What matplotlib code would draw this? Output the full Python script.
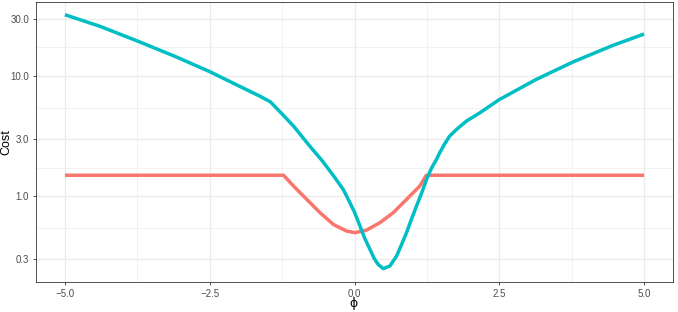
import matplotlib
matplotlib.use("Agg")
import matplotlib.pyplot as plt
from matplotlib.ticker import FixedLocator, NullFormatter
import numpy as np

plt.rcParams['font.family'] = ['Liberation Sans', 'DejaVu Sans']

# Data
red_x = [-5.0, -1.226, -1.053, -0.823, -0.594, -0.365, -0.134, 0.009, 0.21, 0.439,
         0.668, 0.898, 1.127, 1.24, 5.0]
red_y = [1.5, 1.5, 1.22, 0.944, 0.732, 0.585, 0.515, 0.50, 0.525, 0.605,
         0.732, 0.944, 1.22, 1.5, 1.5]

teal_x = [-5.0, -4.4, -3.75, -3.1, -2.5, -2.0, -1.63, -1.45, -1.24, -1.05, -0.77,
          -0.565, -0.36, -0.193, -0.107, 0.0, 0.095, 0.18, 0.267, 0.34, 0.41, 0.496,
          0.611, 0.726, 0.81, 0.898, 0.98, 1.07, 1.16, 1.243, 1.33, 1.415, 1.47, 1.55,
          1.64, 1.76, 1.93, 2.16, 2.5, 3.13, 3.77, 4.46, 5.0]
teal_y = [32.4, 26.0, 19.6, 14.6, 10.9, 8.3, 6.8, 6.1, 4.79, 3.83, 2.61,
          2.0, 1.48, 1.14, 0.944, 0.74, 0.566, 0.445, 0.363, 0.305, 0.272, 0.251,
          0.264, 0.319, 0.395, 0.50, 0.64, 0.83, 1.07, 1.38, 1.72, 2.03, 2.30, 2.7,
          3.16, 3.6, 4.22, 4.94, 6.38, 9.35, 13.1, 18.0, 22.4]

x_ticks = [-5.0, -2.5, 0.0, 2.5, 5.0]
x_tick_labels = ["\u22125.0", "\u22122.5", "0.0", "2.5", "5.0"]
y_ticks = [0.3, 1.0, 3.0, 10.0, 30.0]
y_tick_labels = ["0.3", "1.0", "3.0", "10.0", "30.0"]

fig = plt.figure(figsize=(6.78, 3.12), dpi=100)
ax = fig.add_axes([36/678, 1-282/312, (673-36)/678, 280/312])

ax.set_yscale('log')
ax.set_xlim(-5.5, 5.5)
ylo, yhi = 0.248, 32.4
lr = np.log10(yhi) - np.log10(ylo)
ax.set_ylim(10**(np.log10(ylo) - 0.05*lr), 10**(np.log10(yhi) + 0.05*lr))

# grid
minor_x = [-3.75, -1.25, 1.25, 3.75]
ly = np.log10(y_ticks)
minor_y = list(10**((ly[:-1] + ly[1:]) / 2))
for v in minor_x:
    ax.axvline(v, color='#EBEBEB', lw=0.45, zorder=0)
for v in minor_y:
    ax.axhline(v, color='#EBEBEB', lw=0.45, zorder=0)
for v in x_ticks:
    ax.axvline(v, color='#EBEBEB', lw=0.9, zorder=0)
for v in y_ticks:
    ax.axhline(v, color='#EBEBEB', lw=0.9, zorder=0)

ax.plot(red_x, red_y, color='#F8766D', lw=2.5, solid_capstyle='butt',
        solid_joinstyle='round', zorder=3)
ax.plot(teal_x, teal_y, color='#00BFC4', lw=2.5, solid_capstyle='butt',
        solid_joinstyle='round', zorder=3)

ax.xaxis.set_major_locator(FixedLocator(x_ticks))
ax.set_xticklabels(x_tick_labels)
ax.yaxis.set_major_locator(FixedLocator(y_ticks))
ax.yaxis.set_minor_locator(FixedLocator([]))
ax.yaxis.set_minor_formatter(NullFormatter())
ax.set_yticklabels(y_tick_labels)

ax.tick_params(axis='both', which='major', length=2.5, width=0.6, color='#333333',
               labelsize=7, labelcolor='#4D4D4D', pad=2.5)
for s in ax.spines.values():
    s.set_color('#333333')
    s.set_linewidth(0.6)

fig.text(354/678, 1-304/312, '\u03d5', ha='center', va='center', fontsize=9,
         family=['DejaVu Sans'])
fig.text(6/678, 1-142/312, 'Cost', rotation=90, ha='center', va='center', fontsize=9)

fig.savefig('out.png', dpi=100)
